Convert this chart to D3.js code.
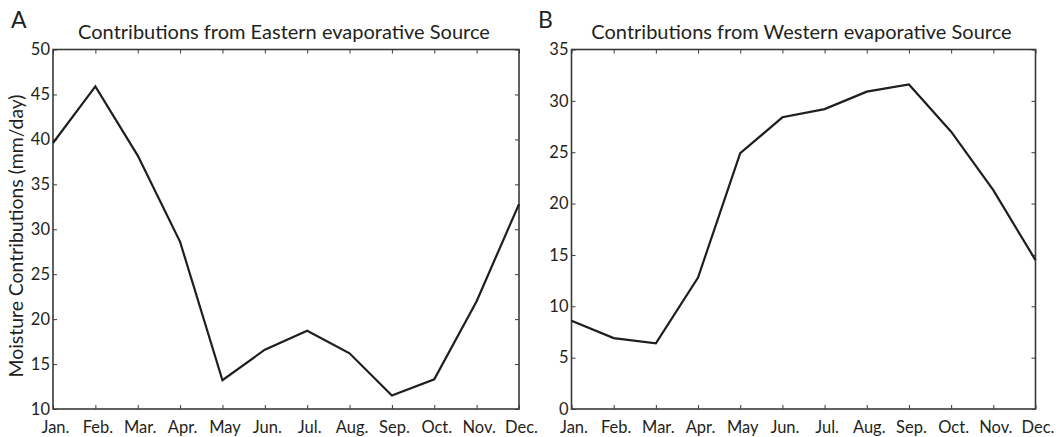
<!DOCTYPE html>
<html>
<head>
<meta charset="utf-8">
<script src="https://cdn.jsdelivr.net/npm/d3@7"></script>
<style>
  html, body { margin: 0; padding: 0; background: #fff; }
  svg { display: block; }
  text { font-family: Lato, "Open Sans", sans-serif; fill: #231f20; }
</style>
</head>
<body>
<svg id="fig" width="1056" height="437"></svg>
<script>
// Month labels shared by both panels
const months = ["Jan.", "Feb.", "Mar.", "Apr.", "May", "Jun.", "Jul.", "Aug.", "Sep.", "Oct.", "Nov.", "Dec."];

// Monthly moisture contributions (mm/day)
const easternValues = [39.6, 45.9, 38.2, 28.6, 13.2, 16.6, 18.7, 16.2, 11.5, 13.3, 22.0, 32.8];
const westernValues = [8.6, 6.9, 6.4, 12.8, 24.9, 28.4, 29.2, 30.9, 31.6, 27.0, 21.3, 14.5];

// Y tick values for each panel
const easternTicks = [10, 15, 20, 25, 30, 35, 40, 45, 50];
const westernTicks = [0, 5, 10, 15, 20, 25, 30, 35];

const panels = [
  { letter: "A", title: "Contributions from Eastern evaporative Source",
    values: easternValues, ticks: easternTicks, domain: [10, 50],
    x0: 53, x1: 519, letterX: 11 },
  { letter: "B", title: "Contributions from Western evaporative Source",
    values: westernValues, ticks: westernTicks, domain: [0, 35],
    x0: 571.5, x1: 1035.5, letterX: 538 }
];

const plotTop = 49.5, plotBottom = 409;
const svg = d3.select("#fig");
const axisColor = "#3a3a3a";
const tickLen = 4;

panels.forEach(p => {
  const g = svg.append("g");
  const x = d3.scalePoint().domain(months).range([p.x0, p.x1]);
  const y = d3.scaleLinear().domain(p.domain).range([plotBottom, plotTop]);

  // Bottom axis (ticks point inward)
  const xAxis = g.append("g").attr("transform", `translate(0,${plotBottom})`)
    .call(d3.axisBottom(x).tickSize(-tickLen).tickPadding(11));
  // Top axis, ticks only
  const xTop = g.append("g").attr("transform", `translate(0,${plotTop})`)
    .call(d3.axisTop(x).tickSize(-tickLen).tickFormat(""));
  // Left axis
  const yAxis = g.append("g").attr("transform", `translate(${p.x0},0)`)
    .call(d3.axisLeft(y).tickValues(p.ticks).tickSize(-tickLen).tickPadding(3).tickFormat(d3.format("d")));
  // Right axis, ticks only
  const yRight = g.append("g").attr("transform", `translate(${p.x1},0)`)
    .call(d3.axisRight(y).tickValues(p.ticks).tickSize(-tickLen).tickFormat(""));

  [xAxis, xTop, yAxis, yRight].forEach(a => {
    a.select(".domain").remove();
    a.selectAll(".tick line").attr("stroke", axisColor).attr("stroke-width", 1);
  });
  xAxis.selectAll(".tick text")
    .attr("font-size", 16.5).attr("fill", "#231f20")
    .attr("font-family", "Lato, sans-serif")
    .attr("dx", 2).attr("dy", "0.72em").attr("y", 12);
  yAxis.selectAll(".tick text")
    .attr("font-size", 16.5).attr("fill", "#231f20")
    .attr("font-family", "Lato, sans-serif");

  // Frame box
  g.append("rect")
    .attr("x", p.x0).attr("y", plotTop)
    .attr("width", p.x1 - p.x0).attr("height", plotBottom - plotTop)
    .attr("fill", "none").attr("stroke", axisColor).attr("stroke-width", 1.6);

  // Data line
  const line = d3.line().x((d, i) => x(months[i])).y(d => y(d));
  g.append("path").datum(p.values)
    .attr("d", line)
    .attr("fill", "none").attr("stroke", "#1e1e1e").attr("stroke-width", 2.2)
    .attr("stroke-linejoin", "miter");

  // Title
  g.append("text")
    .attr("x", (p.x0 + p.x1) / 2 - 2).attr("y", 39)
    .attr("text-anchor", "middle").attr("font-size", 20)
    .text(p.title);

  // Panel letter
  g.append("text")
    .attr("x", p.letterX).attr("y", 28)
    .attr("font-size", 23)
    .text(p.letter);
});

// Shared y-axis label
svg.append("text")
  .attr("transform", "translate(23,236) rotate(-90)")
  .attr("text-anchor", "middle").attr("font-size", 19.4)
  .text("Moisture Contributions (mm/day)");
</script>
</body>
</html>
